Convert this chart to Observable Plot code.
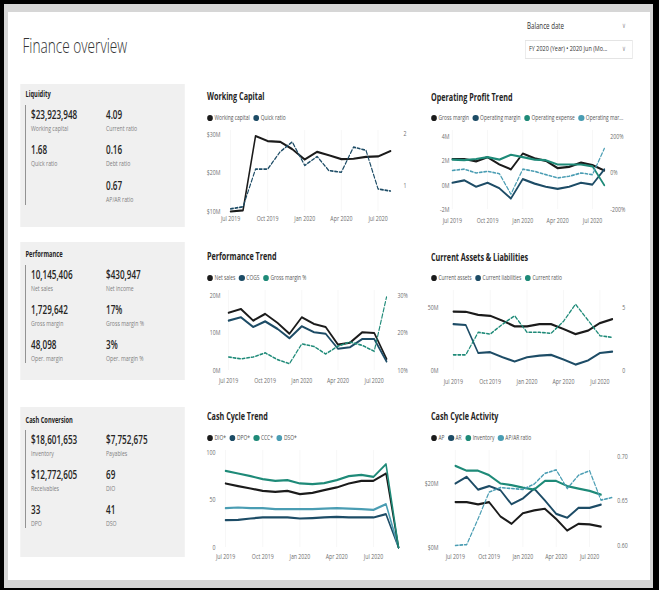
<!DOCTYPE html>
<html>
<head>
<meta charset="utf-8">
<script src="https://cdn.jsdelivr.net/npm/d3@7"></script>
<script src="https://cdn.jsdelivr.net/npm/@observablehq/plot@0.6"></script>
<style>
html,body{margin:0;padding:0;background:#000;width:659px;height:590px;overflow:hidden;font-family:"Open Sans",sans-serif;}
#frame{position:absolute;left:4px;top:4px;width:649px;height:584px;background:#d6d6d6;}
#panel{position:absolute;left:8px;top:12px;width:642px;height:568px;background:#fff;}
#stage{position:absolute;left:0;top:0;width:942px;height:590px;transform:scaleX(0.7);transform-origin:0 0;}
</style>
</head>
<body>
<div id="frame"></div>
<div id="panel"></div>
<div id="stage"></div>
<script>
// ---------------- data ----------------
const months = ["2019-07","2019-08","2019-09","2019-10","2019-11","2019-12","2020-01","2020-02","2020-03","2020-04","2020-05","2020-06","2020-07","2020-08","2020-09"];
const xTickMonths = ["2019-07","2019-10","2020-01","2020-04","2020-07"];

// Working Capital ($M) and Quick ratio
const workingCapital = [10.0,10.3,29.6,28.3,28.1,26.2,23.5,25.5,24.6,23.6,23.7,24.2,24.3,25.7];
const quickRatio = [0.56,0.60,1.32,1.32,1.65,1.84,1.39,1.56,1.29,1.26,1.74,1.68,0.94,0.90];
const wcLeftTicks = [10,20,30];
const wcRightTicks = [1,2];

// Operating Profit Trend ($M, %)
const grossMargin = [2.15,2.15,1.95,2.3,1.7,1.3,2.6,2.2,2.0,1.4,1.5,1.85,1.65,1.2];
const operatingMargin = [0.2,0.4,-0.13,0.2,-0.26,-1.1,0.5,0.13,-0.13,-0.3,-0.13,0.2,0.05,1.3];
const operatingExpense = [2.1,2.05,2.15,2.3,2.1,2.5,2.3,2.1,2.05,1.7,1.7,1.7,1.55,0.0];
const operatingMarginPct = [14,21,0,9,-4,-116,21,9,-9,-27,-18,0,-9,134];
const opLeftTicks = [-2,0,2,4];
const opRightTicks = [-200,0,200];

// Performance Trend ($M, %)
const netSales = [15.4,16.4,13.3,15.1,12.7,9.8,14.2,12.4,11.6,6.9,7.4,10.2,10.0,3.1];
const cogs = [13.3,14.2,11.6,13.1,11.1,8.6,11.8,10.2,9.8,5.8,6.2,8.4,8.4,2.4];
const grossMarginPct = [13.6,13.1,13.6,14.7,12.9,11.8,17.1,16.4,14.4,16.5,17.6,16.7,15.1,29.6];
const perfLeftTicks = [0,10,20];
const perfRightTicks = [10,20,30];

// Current Assets & Liabilities ($M, ratio)
const currentAssets = [46.8,46.6,44.2,43.4,39.5,35.0,35.0,36.8,36.8,32.9,28.9,31.6,37.6,40.8];
const currentLiabilities = [36.8,36.1,13.9,14.5,10.5,7.1,10.5,11.8,12.4,8.7,4.7,7.9,13.9,15.0];
const currentRatio = [1.24,1.24,3.03,2.89,3.68,4.34,3.03,3.03,2.95,3.9,5.26,4.0,2.76,2.63];
const calLeftTicks = [0,50];
const calRightTicks = [0,5];

// Cash Cycle Trend (days)
const dio = [67.4,64.6,62.1,59.6,58.6,59.6,56.1,57.5,60.4,63.2,67.4,70.2,70.2,77.9,0];
const dpo = [28.8,29.1,30.5,31.6,31.6,31.6,30.5,30.9,31.6,32.3,31.6,31.6,31.6,35.1,0];
const ccc = [80.7,77.9,75.1,71.9,70.2,70.9,67.4,66.7,67.7,70.9,75.1,76.5,74.4,87.7,0];
const dso = [41.4,42.1,41.4,41.4,40.4,40.4,40.4,40.4,41.0,41.4,41.0,40.4,39.6,45.6,0];
const cctTicks = [0,50,100];

// Cash Cycle Activity ($M, ratio)
const ap = [14.2,14.2,13.5,14.2,9.7,7.4,10.7,11.6,12.1,8.9,5.3,7.4,7.2,6.5];
const ar = [20.0,22.1,18.1,19.2,17.9,13.5,15.3,18.4,14.7,10.5,9.3,12.4,12.4,13.4];
const inventory = [25.5,24.0,24.0,22.6,20.0,19.5,18.7,18.1,20.8,20.8,19.2,18.4,17.7,16.5];
const apArRatio = [0.600,0.601,0.630,0.660,0.665,0.664,0.663,0.669,0.681,0.685,0.664,0.679,0.684,0.651,0.654];
const ccaLeftTicks = [0,20];
const ccaRightTicks = [0.60,0.65,0.70];

// KPI cards
const liquidityValues = ["$23,923,948","4.09","1.68","0.16","","0.67"];
const liquidityLabels = ["Working capital","Current ratio","Quick ratio","Debt ratio","","AP/AR ratio"];
const performanceValues = ["10,145,406","$430,947","1,729,642","17%","48,098","3%"];
const performanceLabels = ["Net sales","Net income","Gross margin","Gross margin %","Oper. margin","Oper. margin %"];
const cashValues = ["$18,601,653","$7,752,675","$12,772,605","69","33","41"];
const cashLabels = ["Inventory","Payables","Receivables","DIO","DPO","DSO"];

// ---------------- layout helpers ----------------
const K = 0.7;
const C0 = "#1b1b1b", C1 = "#1d4c66", C2 = "#1e8a78", C3 = "#4a9db3";
const AX = 7.5; // axis font size
const parseMonth = d3.utcParse("%Y-%m");
const stage = document.getElementById("stage");

function put(el, x, y, w, h) {
  el.style.position = "absolute";
  el.style.left = (x / K) + "px";
  el.style.top = y + "px";
  if (w != null) el.style.width = (w / K) + "px";
  if (h != null) el.style.height = h + "px";
  stage.appendChild(el);
  return el;
}
function label(str, x, yc, size, weight, color, family) {
  const d = document.createElement("div");
  d.textContent = str;
  Object.assign(d.style, {fontSize: size + "px", fontWeight: weight, color, lineHeight: size + "px", whiteSpace: "nowrap"});
  if (family) d.style.fontFamily = family;
  return put(d, x, yc - 0.55 * size);
}
function rect(x, y, w, h, css) {
  const d = document.createElement("div");
  Object.assign(d.style, css);
  return put(d, x, y, w, h);
}
function legend(x, yc, items) {
  const d = document.createElement("div");
  Object.assign(d.style, {display: "flex", alignItems: "center", whiteSpace: "nowrap", fontSize: "7px", color: "#555", lineHeight: "8px"});
  items.forEach(([name, color]) => {
    const dot = document.createElement("span");
    Object.assign(dot.style, {display: "inline-block", width: (6 / K) + "px", height: "6px", borderRadius: "50%", background: color, marginRight: (1.5 / K) + "px", flex: "none"});
    const t = document.createElement("span");
    t.textContent = name;
    t.style.marginRight = (3.5 / K) + "px";
    d.append(dot, t);
  });
  put(d, x, yc - 4);
}
function series(values) {
  return values.map((v, i) => ({date: parseMonth(months[i]), value: v}));
}
function lineMark(s) {
  const o = {x: "date", y: "value", stroke: s.color, strokeWidth: s.dash ? 1.6 : 2.2, strokeLinejoin: "round"};
  if (s.dash) o.strokeDasharray = "4,2.5";
  return Plot.line(series(s.values), o);
}

function chart(c) {
  const holder = document.createElement("div");
  put(holder, c.left, c.top, c.w, c.h);
  const W = c.w / K;
  const base = {
    width: W, height: c.h,
    marginLeft: (c.axisL - c.left) / K,
    marginRight: c.axisR ? (c.left + c.w - c.axisR) / K : 10,
    marginTop: c.gridTop - c.top,
    marginBottom: c.top + c.h - c.axisB,
    style: {background: "transparent", fontFamily: "'Open Sans', sans-serif", fontSize: AX + "px", color: "#707070", overflow: "visible"}
  };
  const xs = {type: "utc", domain: [parseMonth(c.xFirst), parseMonth(c.xLast)], range: c.xRange.map(v => (v - c.left) / K)};
  const ticks = xTickMonths.map(parseMonth);
  const p1 = Plot.plot({
    ...base,
    x: xs,
    y: {domain: c.yDomain, range: c.yRange.map(v => v - c.top)},
    marks: [
      Plot.gridX(ticks, {stroke: "#000", strokeOpacity: 0.045}),
      Plot.axisX(ticks, {tickSize: 0, tickPadding: c.xPad, tickFormat: d3.utcFormat("%b %Y"), label: null}),
      Plot.axisY(c.yTicks, {anchor: "left", tickSize: 0, tickPadding: 2 / K, tickFormat: c.yFormat, label: null}),
      ...c.lines.map(lineMark)
    ]
  });
  p1.style.position = "absolute"; p1.style.left = "0px"; p1.style.top = "0px";
  holder.appendChild(p1);
  if (c.y2Domain) {
    const p2 = Plot.plot({
      ...base,
      x: {...xs, axis: null},
      y: {domain: c.y2Domain, range: c.y2Range.map(v => v - c.top)},
      marks: [
        Plot.axisY(c.y2Ticks, {anchor: "right", tickSize: 0, tickPadding: 3 / K, tickFormat: c.y2Format, label: null}),
        ...c.lines2.map(lineMark)
      ]
    });
    p2.style.position = "absolute"; p2.style.left = "0px"; p2.style.top = "0px";
    holder.appendChild(p2);
  }
}

function card(title, top, bottom, titleY, lineTop, lineBottom, rowYs, values, labels) {
  rect(20, top, 165, bottom - top, {background: "#f0f0f0"});
  label(title, 25.5, titleY, 8.2, 700, "#252423");
  rect(25, lineTop, 1, lineBottom - lineTop, {background: "#6a6a6a"});
  values.forEach((v, i) => {
    if (!v) return;
    const col = i % 2, row = Math.floor(i / 2);
    const x = col === 0 ? 31 : 106;
    label(v, x, rowYs[row], 11.6, 600, "#252423");
    label(labels[i], x, rowYs[row] + 14.5, 7.4, 400, "#808080");
  });
}

// ---------------- header ----------------
label("Finance overview", 22.5, 47, 19.5, 300, "#333");
label("Balance date", 527, 27, 8.8, 400, "#333");
label("\u2228", 622, 26, 7.5, 400, "#9a9a9a", "DejaVu Sans");
rect(525, 39.5, 108, 19, {border: "1px solid #e4e4e4", boxSizing: "border-box"});
label("FY 2020 (Year) \u2022 2020 Jun (Mo...", 529, 49, 7.8, 400, "#333");
label("\u2228", 622, 49, 7.5, 400, "#9a9a9a", "DejaVu Sans");

// ---------------- KPI cards ----------------
card("Liquidity", 84, 227, 95, 105, 205, [115, 150, 186], liquidityValues, liquidityLabels);
card("Performance", 242, 380, 255, 265, 363, [275, 310, 345], performanceValues, performanceLabels);
card("Cash Conversion", 407, 557, 421, 430, 528, [440, 475, 510], cashValues, cashLabels);

// ---------------- charts ----------------
const fmtM = d => d + "M";
const fmtDollarM = d => "$" + d + "M";
const TS = 10.3; // chart title size

label("Working Capital", 207, 97, TS, 700, "#252423");
legend(207, 118, [["Working capital", C0], ["Quick ratio", C1]]);
chart({left: 200, top: 122, w: 215, h: 103, axisL: 222, axisR: 400, axisB: 211, gridTop: 130,
  xFirst: months[0], xLast: months[13], xRange: [230, 390], xPad: 4.3,
  yDomain: [10, 30], yRange: [211, 134], yTicks: wcLeftTicks, yFormat: fmtDollarM,
  lines: [{values: workingCapital, color: C0}],
  y2Domain: [0.5, 2], y2Range: [211.5, 133], y2Ticks: wcRightTicks, y2Format: d => String(d),
  lines2: [{values: quickRatio, color: C1, dash: true}]});

label("Operating Profit Trend", 431, 98, TS, 700, "#252423");
legend(431, 118, [["Gross margin", C0], ["Operating margin", C1], ["Operating expense", C2], ["Operating mar...", C3]]);
chart({left: 420, top: 122, w: 225, h: 103, axisL: 451, axisR: 607, axisB: 209, gridTop: 130,
  xFirst: months[0], xLast: months[13], xRange: [452, 604], xPad: 8.5,
  yDomain: [-2, 4], yRange: [209, 136], yTicks: opLeftTicks, yFormat: fmtM,
  lines: [{values: grossMargin, color: C0}, {values: operatingMargin, color: C1}, {values: operatingExpense, color: C2}],
  y2Domain: [-200, 200], y2Range: [209, 136], y2Ticks: opRightTicks, y2Format: d => d + "%",
  lines2: [{values: operatingMarginPct, color: C3, dash: true}]});

label("Performance Trend", 207, 257, TS, 700, "#252423");
legend(207, 278, [["Net sales", C0], ["COGS", C1], ["Gross margin %", C2]]);
chart({left: 200, top: 282, w: 215, h: 103, axisL: 222, axisR: 394, axisB: 370, gridTop: 290,
  xFirst: months[0], xLast: months[13], xRange: [228, 386], xPad: 7.3,
  yDomain: [0, 20], yRange: [370, 295], yTicks: perfLeftTicks, yFormat: fmtM,
  lines: [{values: netSales, color: C0}, {values: cogs, color: C1}],
  y2Domain: [10, 30], y2Range: [370, 295], y2Ticks: perfRightTicks, y2Format: d => d + "%",
  lines2: [{values: grossMarginPct, color: C2, dash: true}]});

label("Current Assets & Liabilities", 431, 258, TS, 700, "#252423");
legend(431, 278, [["Current assets", C0], ["Current liabilities", C1], ["Current ratio", C2]]);
chart({left: 420, top: 282, w: 225, h: 103, axisL: 440, axisR: 619, axisB: 370, gridTop: 290,
  xFirst: months[0], xLast: months[13], xRange: [453, 612], xPad: 8.3,
  yDomain: [0, 50], yRange: [370, 307], yTicks: calLeftTicks, yFormat: fmtM,
  lines: [{values: currentAssets, color: C0}, {values: currentLiabilities, color: C1}],
  y2Domain: [0, 5], y2Range: [370, 307], y2Ticks: calRightTicks, y2Format: d => String(d),
  lines2: [{values: currentRatio, color: C2, dash: true}]});

label("Cash Cycle Trend", 207, 417, TS, 700, "#252423");
legend(207, 438, [["DIO*", C0], ["DPO*", C1], ["CCC*", C2], ["DSO*", C3]]);
chart({left: 200, top: 442, w: 215, h: 125, axisL: 217, axisB: 547, gridTop: 450,
  xFirst: months[0], xLast: months[14], xRange: [225, 398], xPad: 6.3,
  yDomain: [0, 100], yRange: [547, 452], yTicks: cctTicks, yFormat: d => String(d),
  lines: [{values: dpo, color: C1}, {values: dso, color: C3}, {values: dio, color: C0}, {values: ccc, color: C2}]});

label("Cash Cycle Activity", 431, 417, TS, 700, "#252423");
legend(431, 438, [["AP", C0], ["AR", C1], ["Inventory", C2], ["AP/AR ratio", C3]]);
chart({left: 420, top: 442, w: 225, h: 125, axisL: 440, axisR: 614, axisB: 547, gridTop: 450,
  xFirst: months[0], xLast: months[14], xRange: [455, 612], xPad: 6.3,
  yDomain: [0, 20], yRange: [547, 483], yTicks: ccaLeftTicks, yFormat: fmtDollarM,
  lines: [{values: ap, color: C0}, {values: ar, color: C1}, {values: inventory, color: C2}],
  y2Domain: [0.60, 0.70], y2Range: [545, 456], y2Ticks: ccaRightTicks, y2Format: d3.format(".2f"),
  lines2: [{values: apArRatio, color: C3, dash: true}]});
</script>
</body>
</html>
